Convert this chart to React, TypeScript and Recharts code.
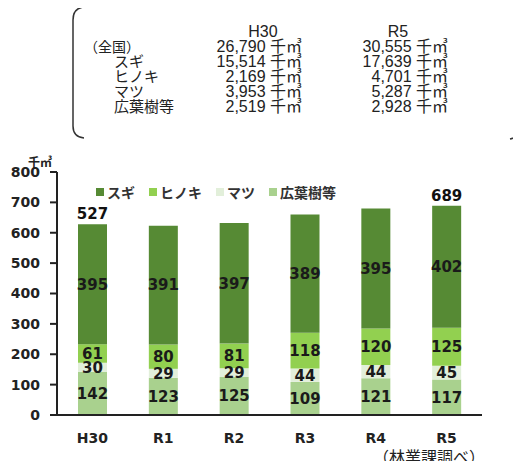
import React from "react";
import { BarChart, Bar, XAxis, YAxis, LabelList } from "recharts";

const categories = ["H30", "R1", "R2", "R3", "R4", "R5"];
const sugi = [395, 391, 397, 389, 395, 402];
const hinoki = [61, 80, 81, 118, 120, 125];
const matsu = [30, 29, 29, 44, 44, 45];
const kouyou = [142, 123, 125, 109, 121, 117];
const totalLabels = ["527", "", "", "", "", "689"];
const yTicks = [0, 100, 200, 300, 400, 500, 600, 700, 800];

// national figures shown in the bracket box
const boxRows = ["（全国）", "スギ", "ヒノキ", "マツ", "広葉樹等"];
const boxH30 = ["26,790 千㎥", "15,514 千㎥", "2,169 千㎥", "3,953 千㎥", "2,519 千㎥"];
const boxR5 = ["30,555 千㎥", "17,639 千㎥", "4,701 千㎥", "5,287 千㎥", "2,928 千㎥"];

const series = [
  { key: "kouyou", name: "広葉樹等", color: "#a9d18e" },
  { key: "matsu", name: "マツ", color: "#e2efda" },
  { key: "hinoki", name: "ヒノキ", color: "#92d050" },
  { key: "sugi", name: "スギ", color: "#568a34" },
];
const legendOrder = ["sugi", "hinoki", "matsu", "kouyou"];

const data = categories.map((c, i) => ({
  name: c,
  sugi: sugi[i],
  hinoki: hinoki[i],
  matsu: matsu[i],
  kouyou: kouyou[i],
  total: totalLabels[i],
}));

const numFont = "'DejaVu Sans', sans-serif";
const jpFont = "'Noto Sans CJK JP', sans-serif";
const boxFont = `'Liberation Sans', ${jpFont}`;

export default function App() {
  return (
    <div style={{ position: "relative", width: 521, height: 469, margin: -8, background: "#fff", overflow: "hidden" }}>
      <BarChart
        width={521}
        height={469}
        data={data}
        margin={{ top: 172, right: 39, bottom: 24, left: 0 }}
        style={{ position: "absolute", left: 0, top: 0 }}
      >
        <XAxis
          dataKey="name"
          height={30}
          tickLine={false}
          tickSize={6}
          tickMargin={12}
          axisLine={{ stroke: "#222", strokeWidth: 2 }}
          tick={{ fill: "#222", fontSize: 14, fontWeight: "bold", fontFamily: numFont }}
        />
        <YAxis
          width={57}
          domain={[0, 800]}
          ticks={yTicks}
          interval={0}
          tickSize={7}
          tickMargin={10}
          axisLine={{ stroke: "#222", strokeWidth: 2 }}
          tickLine={{ stroke: "#222", strokeWidth: 2 }}
          tick={{ fill: "#222", fontSize: 14, fontWeight: "bold", fontFamily: numFont }}
        />
        {series.map((s) => (
          <Bar
            key={s.key}
            dataKey={s.key}
            name={s.name}
            stackId="a"
            fill={s.color}
            barSize={29}
            isAnimationActive={false}
          >
            <LabelList
              dataKey={s.key}
              position="center"
              fill="#1a1a1a"
              fontSize={15}
              fontWeight="bold"
              fontFamily={numFont}
            />
            {s.key === "sugi" && (
              <LabelList
                dataKey="total"
                position="top"
                offset={5}
                fill="#111"
                fontSize={15}
                fontWeight="bold"
                fontFamily={numFont}
              />
            )}
          </Bar>
        ))}
      </BarChart>

      {/* legend */}
      <div
        style={{
          position: "absolute",
          left: 96,
          top: 183,
          display: "flex",
          gap: 14,
          fontFamily: jpFont,
          fontWeight: "bold",
          fontSize: 14,
          color: "#333",
          lineHeight: "18px",
        }}
      >
        {legendOrder.map((k) => {
          const s = series.find((x) => x.key === k)!;
          return (
            <div key={k} style={{ display: "flex", alignItems: "center", gap: 3 }}>
              <span style={{ width: 8, height: 8, background: s.color, display: "inline-block" }} />
              <span>{s.name}</span>
            </div>
          );
        })}
      </div>

      <svg width={521} height={469} style={{ position: "absolute", left: 0, top: 0, pointerEvents: "none" }}>
        {/* bracket box */}
        <path d="M84,7 Q73,8 73,20 L73,126 Q73,137 84,138" fill="none" stroke="#333" strokeWidth={1.5} />
        <path d="M510,6 Q519,8 521,14 M510,139 Q519,137 521,131" fill="none" stroke="#333" strokeWidth={1.5} />
        <text x={263} y={37} textAnchor="middle" fontSize={16} fontFamily={boxFont} fill="#222">H30</text>
        <text x={398} y={37} textAnchor="middle" fontSize={16} fontFamily={boxFont} fill="#222">R5</text>
        {boxRows.map((r, i) => (
          <g key={r}>
            <text x={i === 0 ? 84 : 114} y={52 + i * 15} fontSize={i === 0 ? 14 : 15} fontFamily={jpFont} fill="#222">
              {r}
            </text>
            <text x={302} y={52 + i * 15} textAnchor="end" fontSize={16} fontFamily={boxFont} fill="#222">
              {boxH30[i]}
            </text>
            <text x={448} y={52 + i * 15} textAnchor="end" fontSize={16} fontFamily={boxFont} fill="#222">
              {boxR5[i]}
            </text>
          </g>
        ))}
        {/* unit and source */}
        <text x={28} y={167} fontSize={12} fontWeight="bold" fontFamily={jpFont} fill="#222">千㎥</text>
        <text x={373} y={463} fontSize={16} fontFamily={jpFont} fill="#222">（林業課調べ）</text>
      </svg>
    </div>
  );
}
